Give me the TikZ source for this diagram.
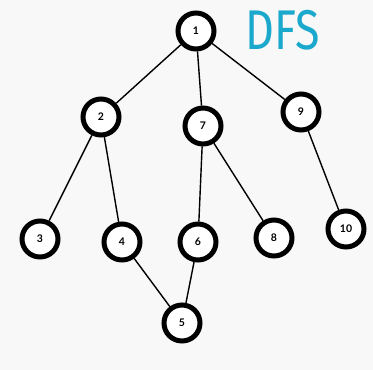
\documentclass[tikz,border=0pt]{standalone}
\usepackage{fontspec}
\setmainfont{Lato}
\newfontfamily\titlefont{Fira Sans}
\definecolor{bgcol}{HTML}{F8F8F8}
\definecolor{titlecol}{HTML}{1AA8CC}
\begin{document}
\begin{tikzpicture}[x=1pt,y=-1pt,
  vertex/.style={circle,draw=black,fill=white,line width=5pt,minimum size=36pt,inner sep=0pt,font=\bfseries\fontsize{10.5}{12}\selectfont},
  link/.style={line width=1.4pt,black}]
  \fill[bgcol] (0,0) rectangle (373,370);
  \useasboundingbox (0,0) rectangle (373,370);
  % tree vertices
  \node[vertex] (n1) at (196,31) {1};
  \node[vertex] (n2) at (101,117) {2};
  \node[vertex] (n7) at (203,126) {7};
  \node[vertex] (n9) at (301,112) {9};
  \node[vertex] (n3) at (40,239) {3};
  \node[vertex] (n4) at (122,242) {4};
  \node[vertex] (n6) at (198,242) {6};
  \node[vertex] (n8) at (274,238) {8};
  \node[vertex] (n10) at (346,229) {10};
  \node[vertex] (n5) at (182,323) {5};
  % edges between vertex borders
  \draw[link] (n1) -- (n2);
  \draw[link] (n1) -- (n7);
  \draw[link] (n1) -- (n9);
  \draw[link] (n2) -- (n3);
  \draw[link] (n2) -- (n4);
  \draw[link] (n7) -- (n6);
  \draw[link] (n7) -- (n8);
  \draw[link] (n9) -- (n10);
  \draw[link] (n4) -- (n5);
  \draw[link] (n6) -- (n5);
  % title
  \node[text=titlecol,font=\titlefont\fontsize{56}{60}\selectfont,xscale=0.8,inner sep=0pt] (title) at (283,30) {DFS};
\end{tikzpicture}
\end{document}
